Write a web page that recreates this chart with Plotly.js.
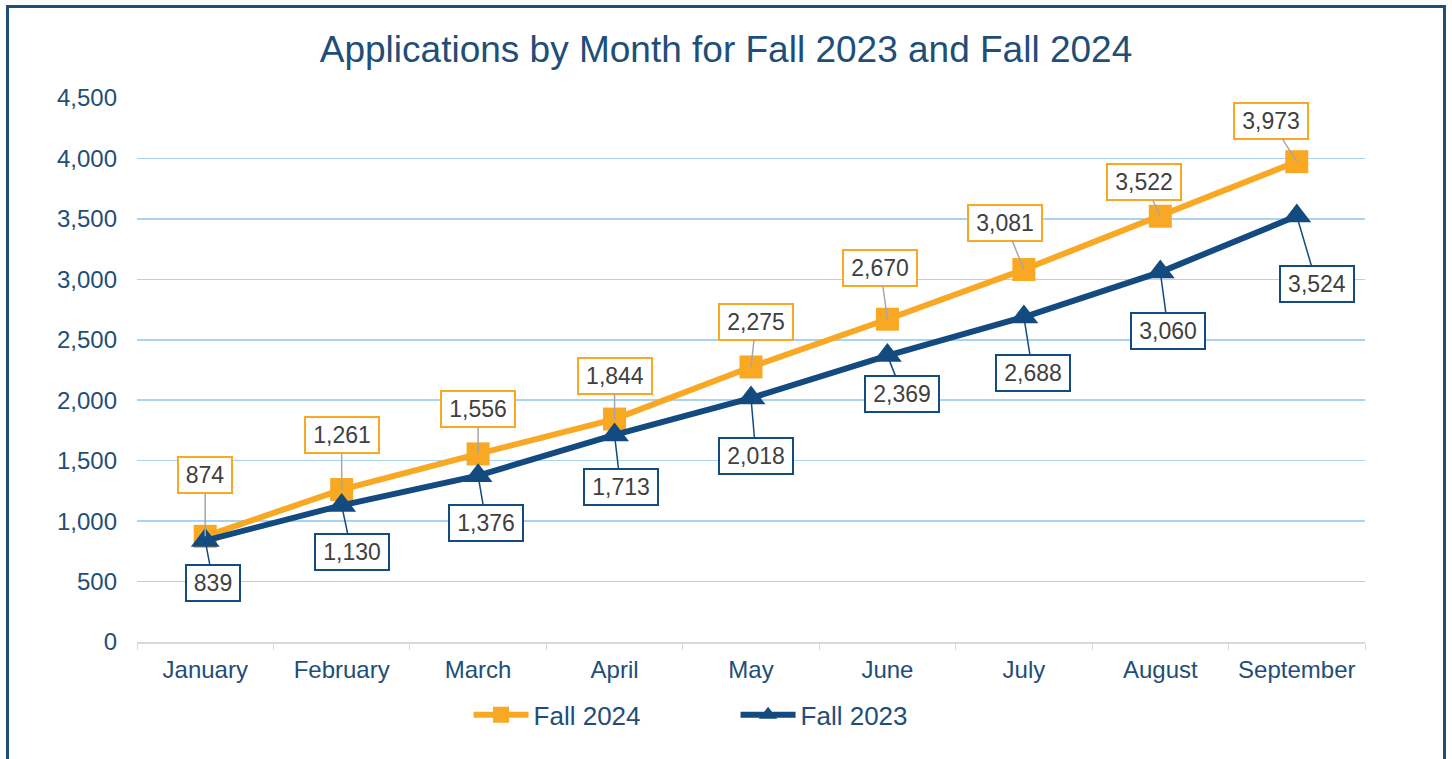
<!DOCTYPE html>
<html>
<head>
<meta charset="utf-8">
<script src="https://cdn.plot.ly/plotly-3.0.1.min.js"></script>
<style>
  html, body { margin: 0; padding: 0; background: #ffffff; overflow: hidden; }
  #chart { width: 1452px; height: 759px; }
  #frame { position: absolute; left: 6px; top: 5px; width: 1434px; height: 800px;
           border: 3px solid #1F4E79; pointer-events: none; }
</style>
</head>
<body>
<div id="chart"></div>
<div id="frame"></div>
<script>
const months = ["January", "February", "March", "April", "May", "June", "July", "August", "September"];
const fall2024 = [874, 1261, 1556, 1844, 2275, 2670, 3081, 3522, 3973];
const fall2023 = [839, 1130, 1376, 1713, 2018, 2369, 2688, 3060, 3524];
const yTicks = [0, 500, 1000, 1500, 2000, 2500, 3000, 3500, 4000, 4500];

// label offsets (pixels) for the data callouts
const off2024 = [[0,-61],[0,-55],[0,-45],[0,-43],[5,-45],[-7,-51],[-19,-47],[-16,-34],[-26,-41]];
const off2023 = [[8,42],[10,47],[8,47],[6,52],[5,58],[15,38],[9,56],[8,59],[20,68]];

const orange = "#F8A823";
const navy = "#134A7F";
const textNavy = "#1F4E79";
const FONT = "Liberation Sans, Arial, sans-serif";
const LBL = 23;
const fmt = v => v.toLocaleString("en-US");
// approximate text width (Arial metrics) used to size the callout boxes
const boxW = s => {
  let w = 0;
  for (const c of s) w += (c === ",") ? 0.278 : 0.556;
  return Math.round(w * LBL + 6);
};

const traces = [
  { x: months, y: fall2024, name: "Fall 2024", type: "scatter", mode: "lines+markers",
    line: { color: orange, width: 6 }, marker: { symbol: "square", size: 23, color: orange } },
  { x: months, y: fall2023, name: "Fall 2023", type: "scatter", mode: "lines+markers",
    line: { color: navy, width: 6 }, marker: { symbol: "triangle-up", size: 25, color: navy } }
];

const annotations = [];
months.forEach((m, i) => {
  const t1 = fmt(fall2024[i]);
  annotations.push({ x: m, y: fall2024[i], xref: "x", yref: "y", text: t1, width: boxW(t1),
    showarrow: true, arrowhead: 0, arrowwidth: 1.5, arrowcolor: "#A6A6A6",
    ax: off2024[i][0], ay: off2024[i][1], bgcolor: "#ffffff", bordercolor: orange,
    borderwidth: 2, borderpad: 4, font: { family: FONT, size: LBL, color: "#404040" } });
  const t2 = fmt(fall2023[i]);
  annotations.push({ x: m, y: fall2023[i], xref: "x", yref: "y", text: t2, width: boxW(t2),
    showarrow: true, arrowhead: 0, arrowwidth: 1.5, arrowcolor: navy,
    ax: off2023[i][0], ay: off2023[i][1], bgcolor: "#ffffff", bordercolor: navy,
    borderwidth: 2, borderpad: 4, font: { family: FONT, size: LBL, color: "#404040" } });
});

const layout = {
  width: 1452, height: 759,
  margin: { l: 137, r: 87, t: 98, b: 117, autoexpand: false },
  paper_bgcolor: "#ffffff", plot_bgcolor: "#ffffff",
  font: { family: FONT, color: textNavy },
  title: { text: "Applications by Month for Fall 2023 and Fall 2024",
           font: { size: 37, color: textNavy }, x: 0.5, xanchor: "center", y: 0.935, yanchor: "middle" },
  xaxis: { type: "category", range: [-0.5, 8.5], tickson: "boundaries", ticks: "outside",
           ticklen: 6, tickcolor: "#D9D9D9", showline: true, linecolor: "#D9D9D9", linewidth: 2,
           showgrid: false, ticklabelstandoff: 5, tickfont: { size: 24, color: textNavy }, fixedrange: true },
  yaxis: { range: [0, 4500], tickvals: yTicks, ticktext: yTicks.map(fmt), showgrid: true,
           gridcolor: "#A9D3F0", gridwidth: 1.5, zeroline: false, showline: false,
           ticklabelstandoff: 19, tickfont: { size: 24, color: textNavy }, fixedrange: true },
  legend: { orientation: "h", x: 0.27, xanchor: "left", y: -0.134, yanchor: "middle",
            font: { size: 26, color: textNavy }, itemwidth: 55, entrywidth: 197, traceorder: "normal" },
  showlegend: true,
  annotations: annotations
};

Plotly.newPlot("chart", traces, layout, { displayModeBar: false, staticPlot: true });
</script>
</body>
</html>
